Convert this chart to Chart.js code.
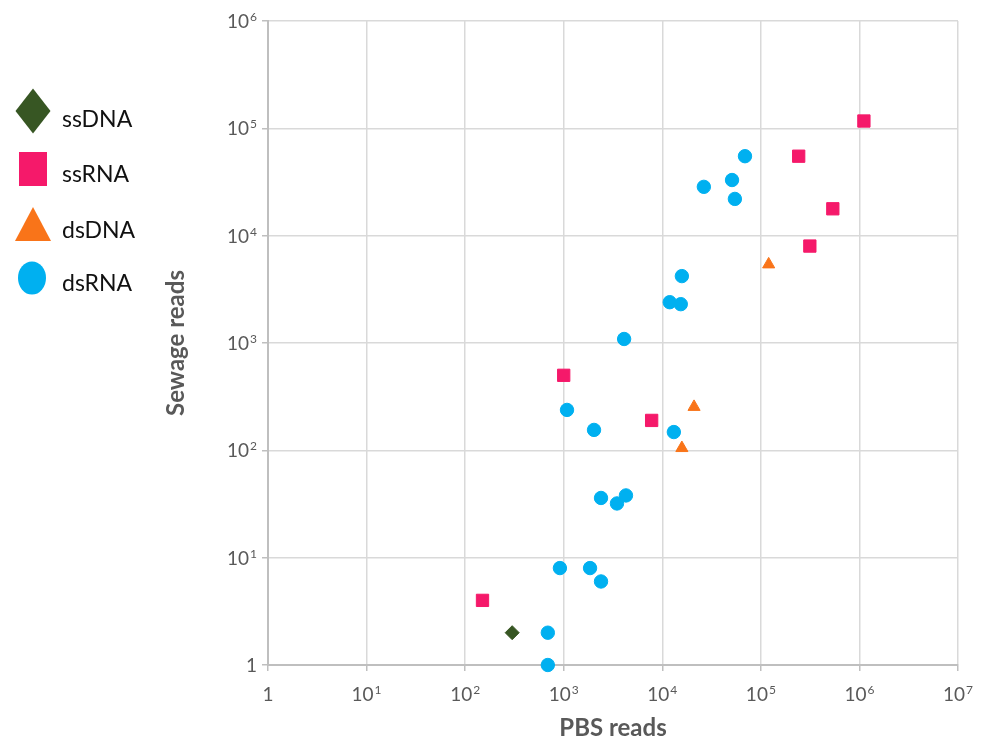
<!DOCTYPE html>
<html>
<head>
<meta charset="utf-8">
<script src="https://cdn.jsdelivr.net/npm/chart.js@4/dist/chart.umd.min.js"></script>
<style>
  html, body { margin: 0; padding: 0; background: #fff; }
</style>
</head>
<body>
<canvas id="myChart" width="987" height="743"></canvas>
<script>
// values (PBS reads on x, Sewage reads on y)
let ssDnaPbs = [300];
let ssDnaSewage = [2];

let ssRnaPbs = [150, 1000, 7800, 242000, 314000, 537000, 1110000];
let ssRnaSewage = [4, 500, 190, 55000, 8000, 17800, 117000];

let dsDnaPbs = [120000, 21000, 15800];
let dsDnaSewage = [5400, 254, 105];

let dsRnaPbs = [69000, 26400, 51000, 54500, 15800, 11900, 15400, 4100, 1080, 2030, 13100, 2390, 4280, 3470, 915, 1850, 2390, 690, 690];
let dsRnaSewage = [55000, 28500, 33000, 22000, 4200, 2400, 2300, 1090, 238, 155, 148, 36, 38, 32, 8, 8, 6, 2, 1];

let seriesNames = ["ssDNA", "ssRNA", "dsDNA", "dsRNA"];
let seriesColors = ["#375623", "#F5196A", "#F97419", "#00B0F0"];
let seriesStyles = ["rectRot", "rect", "triangle", "circle"];
let seriesSizes = [7, 8.7, 7, 6.7];

let xTicks = [1, 10, 100, 1000, 10000, 100000, 1000000, 10000000];
let yTicks = [1, 10, 100, 1000, 10000, 100000, 1000000];

let grey = "#595959";
let fontName = "Lato, 'Open Sans', sans-serif";

function toPoints(xs, ys) {
  return xs.map((x, i) => ({ x: x, y: ys[i] }));
}

let allX = [ssDnaPbs, ssRnaPbs, dsDnaPbs, dsRnaPbs];
let allY = [ssDnaSewage, ssRnaSewage, dsDnaSewage, dsRnaSewage];

let datasets = seriesNames.map((name, i) => ({
  label: name,
  data: toPoints(allX[i], allY[i]),
  backgroundColor: seriesColors[i],
  borderColor: seriesColors[i],
  borderWidth: 1,
  pointStyle: seriesStyles[i],
  pointRadius: seriesSizes[i],
  pointHoverRadius: seriesSizes[i],
  clip: false,
  order: seriesNames.length - i
}));

// power-of-ten labels with a real raised exponent
let powerLabels = {
  id: "powerLabels",
  afterDraw(chart) {
    let ctx = chart.ctx;
    let base = "19px " + fontName;
    let small = "12px " + fontName;
    ctx.save();
    ctx.fillStyle = grey;
    ctx.textBaseline = "alphabetic";
    ctx.textAlign = "left";

    function parts(v) {
      let p = Math.round(Math.log10(v));
      return p === 0 ? ["1", ""] : ["10", String(p)];
    }
    function widths(pr) {
      ctx.font = base;
      let w1 = ctx.measureText(pr[0]).width;
      ctx.font = small;
      let w2 = pr[1] ? ctx.measureText(pr[1]).width + 1 : 0;
      return [w1, w2];
    }
    function drawAt(pr, left, baseline) {
      ctx.font = base;
      ctx.fillText(pr[0], left, baseline);
      if (pr[1]) {
        let w1 = ctx.measureText(pr[0]).width;
        ctx.font = small;
        ctx.fillText(pr[1], left + w1 + 1, baseline - 7);
      }
    }

    let xs = chart.scales.x;
    xs.ticks.forEach(t => {
      let pr = parts(t.value);
      let w = widths(pr);
      let px = xs.getPixelForValue(t.value);
      drawAt(pr, px - (w[0] + w[1]) / 2, 701);
    });

    let ys = chart.scales.y;
    ys.ticks.forEach(t => {
      let pr = parts(t.value);
      let w = widths(pr);
      let py = ys.getPixelForValue(t.value);
      drawAt(pr, 257 - w[0] - w[1], py + 7);
    });
    ctx.restore();
  }
};

// big legend markers on the left, drawn by hand like the original
let sideLegend = {
  id: "sideLegend",
  afterDraw(chart) {
    let ctx = chart.ctx;
    let spots = [
      { my: 111, ty: 120 },
      { my: 169, ty: 175 },
      { my: 224, ty: 231 },
      { my: 278, ty: 284 }
    ];
    ctx.save();
    chart.data.datasets.forEach((ds, i) => {
      let s = spots[i];
      let cx = 33;
      ctx.fillStyle = ds.backgroundColor;
      ctx.beginPath();
      if (ds.pointStyle === "rectRot") {
        ctx.moveTo(cx, s.my - 22.5);
        ctx.lineTo(cx + 17.5, s.my);
        ctx.lineTo(cx, s.my + 22.5);
        ctx.lineTo(cx - 17.5, s.my);
        ctx.closePath();
      } else if (ds.pointStyle === "rect") {
        ctx.rect(cx - 14, s.my - 17, 28, 34);
      } else if (ds.pointStyle === "triangle") {
        ctx.moveTo(cx, s.my - 17);
        ctx.lineTo(cx + 18, s.my + 17);
        ctx.lineTo(cx - 18, s.my + 17);
        ctx.closePath();
      } else {
        ctx.ellipse(cx - 1, s.my, 14, 16.5, 0, 0, Math.PI * 2);
      }
      ctx.fill();
      ctx.fillStyle = "#111";
      ctx.font = "23px " + fontName;
      ctx.textBaseline = "middle";
      ctx.textAlign = "left";
      ctx.fillText(ds.label, 62, s.ty);
    });
    ctx.restore();
  }
};

new Chart("myChart", {
  type: "scatter",
  data: { datasets: datasets },
  plugins: [sideLegend, powerLabels],
  options: {
    responsive: false,
    animation: false,
    layout: {
      padding: { left: 160, right: 29, top: 21, bottom: 0 }
    },
    plugins: {
      legend: { display: false },
      tooltip: { enabled: false }
    },
    scales: {
      x: {
        type: "logarithmic",
        min: 1,
        max: 10000000,
        afterBuildTicks: scale => { scale.ticks = xTicks.map(v => ({ value: v })); },
        afterFit: scale => { scale.height = 78; },
        ticks: { display: false },
        grid: { color: "#D9D9D9", lineWidth: 1.5, tickColor: "#BFBFBF", tickLength: 6 },
        border: { color: "#BFBFBF", width: 2 },
        title: {
          display: true,
          text: "PBS reads",
          color: grey,
          font: { family: fontName, size: 24, weight: "bold" },
          padding: { top: 0, bottom: 0 }
        }
      },
      y: {
        type: "logarithmic",
        min: 1,
        max: 1000000,
        afterBuildTicks: scale => { scale.ticks = yTicks.map(v => ({ value: v })); },
        afterFit: scale => { scale.width = 108; },
        ticks: { display: false },
        grid: { color: "#D9D9D9", lineWidth: 1.5, tickColor: "#BFBFBF", tickLength: 6 },
        border: { color: "#BFBFBF", width: 2 },
        title: {
          display: true,
          text: "Sewage reads",
          color: grey,
          font: { family: fontName, size: 24, weight: "bold" },
          padding: { top: 2, bottom: 0 }
        }
      }
    }
  }
});
</script>
</body>
</html>
